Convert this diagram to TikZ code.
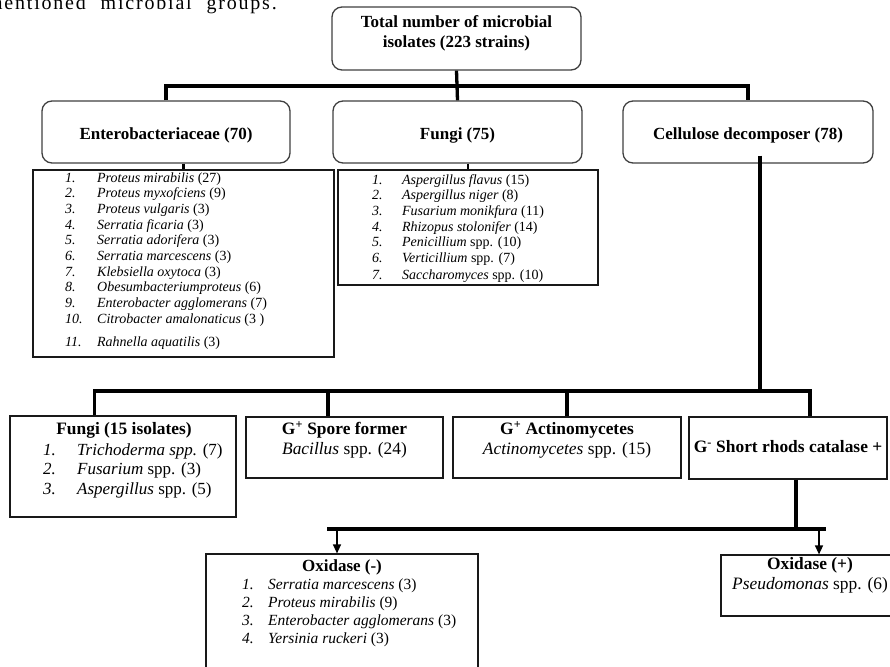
\documentclass[tikz,border=0pt]{standalone}
\usepackage{fontspec}
\setmainfont{Liberation Serif}
\newfontfamily\capfont[LetterSpace=9]{Liberation Serif}
\usetikzlibrary{arrows.meta,calc}
\tikzset{
  rbox/.style={draw=black!75, line width=1.3pt, rounded corners=10pt, inner sep=0pt, fill=white},
  sbox/.style={draw=black!90, line width=1.2pt, inner sep=0pt, fill=white},
  conn/.style={line width=3.3pt},
  stub/.style={line width=2.6pt},
  arr/.style={line width=1.3pt, -{Triangle[length=9pt,width=8pt]}},
  ttl/.style={font=\fontsize{17}{20}\selectfont\bfseries, align=center, inner sep=0pt},
  btxt/.style={font=\fontsize{17.4}{20}\selectfont, align=center, inner sep=0pt},
  lstA/.style={anchor=base west, inner sep=0pt, font=\fontsize{14}{15.7}\selectfont},
  lstB/.style={anchor=base west, inner sep=0pt, font=\fontsize{17}{19.6}\selectfont},
  lstC/.style={anchor=base west, inner sep=0pt, font=\fontsize{15.5}{18}\selectfont},
}
\begin{document}
\begin{tikzpicture}[x=1pt,y=-1pt]
\useasboundingbox (0,0) rectangle (890,666);

% caption fragment
\node[anchor=base east, inner sep=0pt, font=\fontsize{20}{22}\selectfont\capfont] (cap) at (277,10) {mentioned\hspace{8pt} microbial\hspace{8pt} groups.};

% level 1 and 2
\node[rbox, minimum width=249pt, minimum height=63pt] (tot) at (456.5,38.5) {};
\node[ttl] (totT) at (456.5,33) {Total number of microbial\\isolates (223 strains)};

\node[rbox, minimum width=248pt, minimum height=62pt] (ent) at (166,132) {};
\node[ttl] (entT) at (166,135) {Enterobacteriaceae (70)};
\node[rbox, minimum width=249pt, minimum height=62pt] (fun) at (457.5,132) {};
\node[ttl] (funT) at (457.5,135) {Fungi (75)};
\node[rbox, minimum width=250pt, minimum height=62pt] (cel) at (748,132) {};
\node[ttl] (celT) at (748,135) {Cellulose decomposer (78)};

% lists
\node[sbox, minimum width=301pt, minimum height=187pt] (entl) at (183.5,263.5) {};
\node[lstA] (entlT) at (65,182) {\begin{tabular}[t]{@{}p{32pt}@{}l@{}}
\textit{1.} & \textit{Proteus mirabilis} (27)\\
\textit{2.} & \textit{Proteus myxofciens} (9)\\
\textit{3.} & \textit{Proteus vulgaris} (3)\\
\textit{4.} & \textit{Serratia ficaria} (3)\\
\textit{5.} & \textit{Serratia adorifera} (3)\\
\textit{6.} & \textit{Serratia marcescens} (3)\\
\textit{7.} & \textit{Klebsiella oxytoca} (3)\\
\textit{8.} & \textit{Obesumbacteriumproteus} (6)\\
\textit{9.} & \textit{Enterobacter agglomerans} (7)\\
\textit{10.} & \textit{Citrobacter amalonaticus} (3 )\\[7pt]
\textit{11.} & \textit{Rahnella aquatilis} (3)
\end{tabular}};

\node[sbox, minimum width=260pt, minimum height=115pt] (funl) at (468,227.5) {};
\node[lstA] (funlT) at (372,184) {\begin{tabular}[t]{@{}p{30pt}@{}l@{}}
\textit{1.} & \textit{Aspergillus flavus} (15)\\
\textit{2.} & \textit{Aspergillus niger} (8)\\
\textit{3.} & \textit{Fusarium monikfura} (11)\\
\textit{4.} & \textit{Rhizopus stolonifer} (14)\\
\textit{5.} & \textit{Penicillium} spp. (10)\\
\textit{6.} & \textit{Verticillium} spp. (7)\\[1pt]
\textit{7.} & \textit{Saccharomyces} spp. (10)
\end{tabular}};

% level 3
\node[sbox, minimum width=226pt, minimum height=101pt] (fb) at (123,466.5) {};
\node[ttl, font=\fontsize{17.4}{20}\selectfont\bfseries] (fbT) at (124,430) {Fungi (15 isolates)};
\node[lstB] (fbL) at (43,455) {\begin{tabular}[t]{@{}p{34pt}@{}l@{}}
\textit{1.} & \textit{Trichoderma spp.} (7)\\
\textit{2.} & \textit{Fusarium} spp. (3)\\
\textit{3.} & \textit{Aspergillus} spp. (5)
\end{tabular}};

\node[sbox, minimum width=197pt, minimum height=61pt] (sp) at (344.5,447.5) {};
\node[btxt] (spT) at (344.5,440) {\textbf{G\textsuperscript{+} Spore former}\\\textit{Bacillus} spp. (24)};

\node[sbox, minimum width=228pt, minimum height=61pt] (ac) at (567,447.5) {};
\node[btxt] (acT) at (567,440) {\textbf{G\textsuperscript{+} Actinomycetes}\\\textit{Actinomycetes} spp. (15)};

\node[sbox, minimum width=198pt, minimum height=62pt] (gs) at (788,448) {};
\node[btxt] (gsT) at (788,447) {\textbf{G\textsuperscript{-} Short rhods catalase +}};

% level 4
\node[sbox, minimum width=272pt, minimum height=146pt] (oxn) at (342,627) {};
\node[ttl] (oxnT) at (342,567) {Oxidase (-)};
\node[lstC] (oxnL) at (242,589) {\begin{tabular}[t]{@{}p{26pt}@{}l@{}}
\textit{1.} & \textit{Serratia marcescens} (3)\\
\textit{2.} & \textit{Proteus mirabilis} (9)\\
\textit{3.} & \textit{Enterobacter agglomerans} (3)\\
\textit{4.} & \textit{Yersinia ruckeri} (3)
\end{tabular}};

\node[sbox, minimum width=184pt, minimum height=61pt] (oxp) at (813,585.5) {};
\node[btxt] (oxpT) at (810,575) {\textbf{Oxidase (+)}\\\textit{Pseudomonas} spp. (6)};

% connectors top
\coordinate (tb) at (456,86);
\draw[conn] (tot.south) -- (fun.north);
\draw[conn] (ent.north) |- (tb) -| (cel.north);
\draw[stub] (ent.south -| entl.north) -- (entl.north);
\draw[stub] (fun.south -| funl.north) -- (funl.north);

% cellulose branch
\coordinate (cb) at (760,391);
\coordinate (fbt) at ($(fb.north west)!0.376!(fb.north east)$);
\coordinate (spt) at ($(sp.north west)!0.416!(sp.north east)$);
\coordinate (gst) at ($(gs.north west)!0.611!(gs.north east)$);
\draw[conn] ($(cel.south)+(12,-8)$) -- (cb);
\draw[conn] (fbt) |- (cb) -| (gst);
\draw[conn] (spt) -- (spt |- cb);
\draw[conn] (ac.north) -- (ac.north |- cb);

% lower branch
\coordinate (gsb) at ($(gs.south west)!0.540!(gs.south east)$);
\coordinate (lb) at (327,529);
\coordinate (rb) at (826,529);
\coordinate (a1) at (337,529);
\coordinate (a2) at (819,529);
\draw[conn] (gsb) -- (gsb |- lb);
\draw[conn] (lb) -- (rb);
\draw[arr] (a1) -- (a1 |- oxn.north);
\draw[arr] (a2) -- (a2 |- oxp.north);
\end{tikzpicture}
\end{document}
